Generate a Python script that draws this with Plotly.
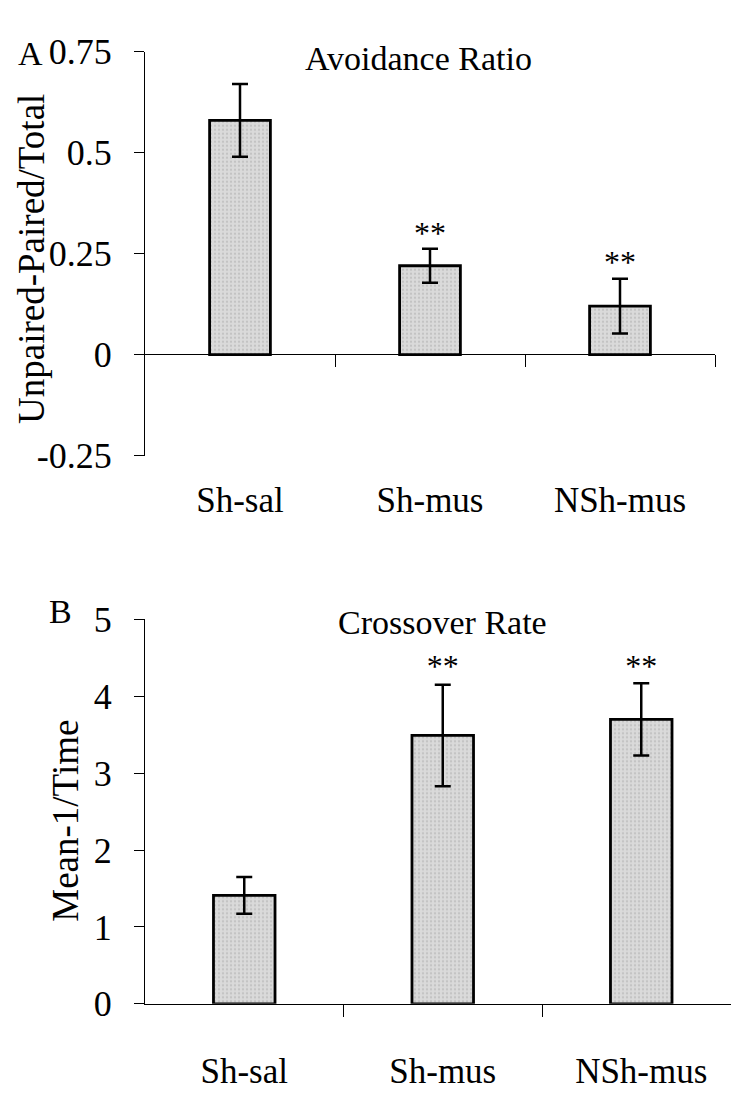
import plotly.graph_objects as go

# ---------------- data ----------------
categories = ["Sh-sal", "Sh-mus", "NSh-mus"]

avoid_vals = [0.58, 0.22, 0.12]
avoid_err = [0.09, 0.042, 0.068]
avoid_stars = ["", "**", "**"]
avoid_star_y = [None, 0.293, 0.222]
avoid_ticks = [-0.25, 0, 0.25, 0.5, 0.75]
avoid_ticktext = ["-0.25", "0", "0.25", "0.5", "0.75"]

cross_vals = [1.41, 3.49, 3.70]
cross_err = [0.24, 0.66, 0.47]
cross_stars = ["", "**", "**"]
cross_star_y = [None, 4.36, 4.36]
cross_ticks = [0, 1, 2, 3, 4, 5]
cross_ticktext = ["0", "1", "2", "3", "4", "5"]

titles = ["Avoidance Ratio", "Crossover Rate"]
ytitles = ["Unpaired-Paired/Total", "Mean-1/Time"]
panel_letters = ["A", "B"]

# ---------------- layout helpers ----------------
W, H = 731, 1100
FONT = "Liberation Serif"


def fx(p):
    return p / W


def fy(p):
    return 1 - p / H


xpos = list(range(len(categories)))
bounds = [i + 0.5 for i in xpos]

bar_marker = dict(
    color="#dadada",
    line=dict(color="black", width=2.8),
    pattern=dict(shape=".", fgcolor="#a9a9a9", size=4, solidity=0.25, fillmode="overlay"),
)
err_style = dict(type="data", visible=True, color="black", thickness=2.5, width=8)

fig = go.Figure()

# Panel A
fig.add_trace(go.Bar(
    x=xpos, y=avoid_vals, width=0.32, marker=bar_marker,
    error_y=dict(array=avoid_err, **err_style),
    xaxis="x", yaxis="y", showlegend=False,
))
fig.add_trace(go.Scatter(
    x=xpos, y=avoid_star_y, text=avoid_stars, mode="text",
    textposition="middle center", textfont=dict(family=FONT, size=32, color="black"),
    xaxis="x", yaxis="y", showlegend=False,
))
# invisible carrier so the zero-line axis (x2) is drawn
fig.add_trace(go.Scatter(
    x=xpos, y=avoid_vals, mode="markers", marker=dict(opacity=0),
    hoverinfo="skip", xaxis="x2", yaxis="y", showlegend=False,
))

# Panel B
fig.add_trace(go.Bar(
    x=xpos, y=cross_vals, width=0.31, marker=bar_marker,
    error_y=dict(array=cross_err, **err_style),
    xaxis="x3", yaxis="y3", showlegend=False,
))
fig.add_trace(go.Scatter(
    x=xpos, y=cross_star_y, text=cross_stars, mode="text",
    textposition="middle center", textfont=dict(family=FONT, size=32, color="black"),
    xaxis="x3", yaxis="y3", showlegend=False,
))
fig.add_trace(go.Scatter(
    x=xpos, y=cross_vals, mode="markers", marker=dict(opacity=0),
    hoverinfo="skip", xaxis="x4", yaxis="y3", showlegend=False,
))

tickfont = dict(family=FONT, size=36, color="black")
catfont = dict(family=FONT, size=35, color="black")

A_dom_x = [fx(145), fx(715)]
A_dom_y = [fy(453), fy(34)]
B_dom_x = [fx(145), 1.0]
B_dom_y = [fy(1022), fy(623)]
A_xrange = [-0.5, 2.5]
B_xrange = [-0.5, -0.5 + (731 - 145) / 198.5]

fig.update_layout(
    width=W, height=H,
    margin=dict(l=0, r=0, t=0, b=0),
    paper_bgcolor="white", plot_bgcolor="white",
    showlegend=False,
    # ---- panel A ----
    xaxis=dict(
        domain=A_dom_x, anchor="y", range=A_xrange,
        tickvals=xpos, ticktext=categories, ticks="", showline=False,
        showgrid=False, zeroline=False, tickfont=catfont, ticklabelstandoff=20,
    ),
    xaxis2=dict(
        overlaying="x", anchor="free", position=fy(348), range=A_xrange,
        tickvals=bounds, ticks="outside", ticklen=12, tickwidth=1, tickcolor="black",
        showticklabels=False, showline=True, linecolor="black", linewidth=1,
        showgrid=False, zeroline=False,
    ),
    yaxis=dict(
        domain=A_dom_y, anchor="x", range=[-0.25, 0.75],
        tickvals=avoid_ticks, ticktext=avoid_ticktext,
        ticks="outside", ticklen=10, tickwidth=1, tickcolor="black",
        showline=True, linecolor="black", linewidth=1,
        showgrid=False, zeroline=False, tickfont=tickfont, ticklabelstandoff=15,
    ),
    # ---- panel B ----
    xaxis3=dict(
        domain=B_dom_x, anchor="y3", range=B_xrange,
        tickvals=xpos, ticktext=categories, ticks="", showline=True,
        linecolor="black", linewidth=1,
        showgrid=False, zeroline=False, tickfont=catfont, ticklabelstandoff=36,
    ),
    xaxis4=dict(
        overlaying="x3", anchor="y3", range=B_xrange,
        tickvals=bounds, ticks="outside", ticklen=12, tickwidth=1, tickcolor="black",
        showticklabels=False, showline=False, showgrid=False, zeroline=False,
    ),
    yaxis3=dict(
        domain=B_dom_y, anchor="x3", range=[0, 5],
        tickvals=cross_ticks, ticktext=cross_ticktext,
        ticks="outside", ticklen=10, tickwidth=1, tickcolor="black",
        showline=True, linecolor="black", linewidth=1,
        showgrid=False, zeroline=False, tickfont=tickfont, ticklabelstandoff=15,
    ),
)

# titles, axis titles, panel letters
ann = []
ann.append(dict(text=titles[0], x=fx(418), y=fy(41), xref="paper", yref="paper",
                xanchor="center", yanchor="middle", showarrow=False,
                font=dict(family=FONT, size=34, color="black")))
ann.append(dict(text=titles[1], x=fx(442), y=fy(626), xref="paper", yref="paper",
                xanchor="center", yanchor="middle", showarrow=False,
                font=dict(family=FONT, size=34, color="black")))
ann.append(dict(text=ytitles[0], x=fx(32), y=fy(249), xref="paper", yref="paper",
                xanchor="center", yanchor="middle", showarrow=False, textangle=-90,
                font=dict(family=FONT, size=37, color="black")))
ann.append(dict(text=ytitles[1], x=fx(66), y=fy(832), xref="paper", yref="paper",
                xanchor="center", yanchor="middle", showarrow=False, textangle=-90,
                font=dict(family=FONT, size=37, color="black")))
ann.append(dict(text=panel_letters[0], x=fx(30), y=fy(36), xref="paper", yref="paper",
                xanchor="center", yanchor="middle", showarrow=False,
                font=dict(family=FONT, size=34, color="black")))
ann.append(dict(text=panel_letters[1], x=fx(60), y=fy(615), xref="paper", yref="paper",
                xanchor="center", yanchor="middle", showarrow=False,
                font=dict(family=FONT, size=34, color="black")))
fig.update_layout(annotations=ann)

fig.write_html("out.html")
